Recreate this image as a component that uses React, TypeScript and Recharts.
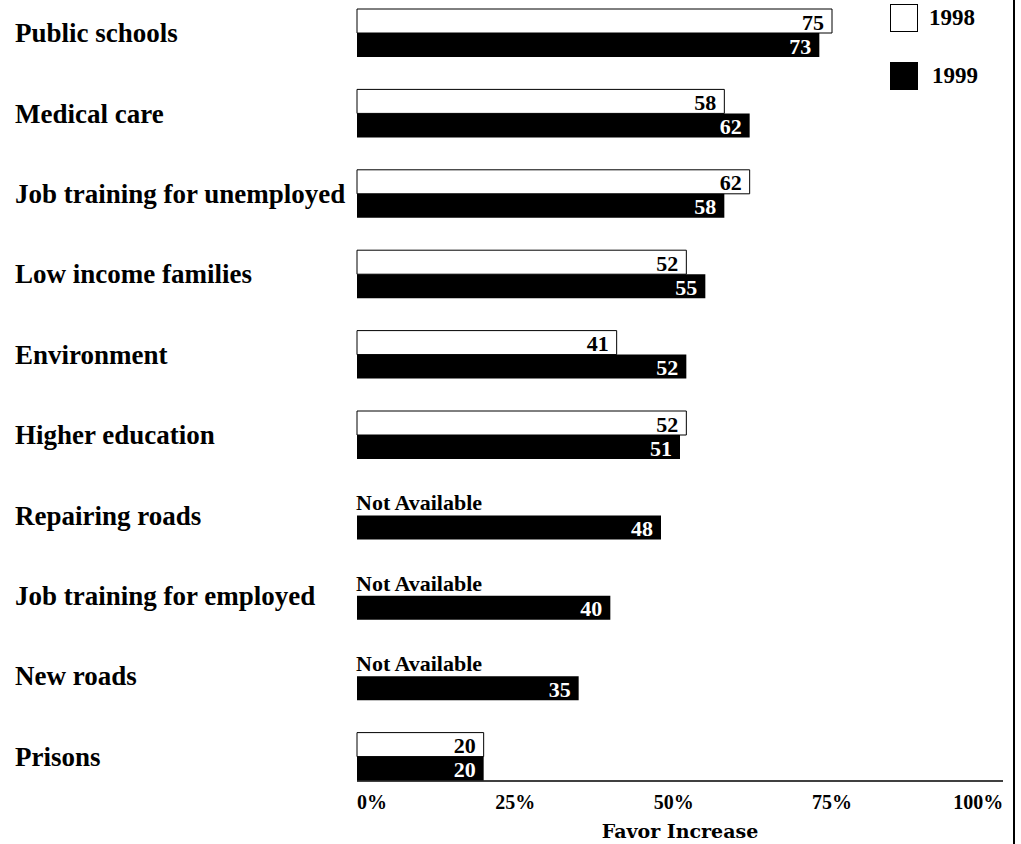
import React from 'react';
import { BarChart, Bar, XAxis, YAxis, LabelList } from 'recharts';

// survey categories, top to bottom
const categories = [
  'Public schools',
  'Medical care',
  'Job training for unemployed',
  'Low income families',
  'Environment',
  'Higher education',
  'Repairing roads',
  'Job training for employed',
  'New roads',
  'Prisons',
];
const values1998: (number | null)[] = [75, 58, 62, 52, 41, 52, null, null, null, 20];
const values1999 = [73, 62, 58, 55, 52, 51, 48, 40, 35, 20];
const pctTicks = [0, 25, 50, 75, 100];

const data = categories.map((name, i) => ({ name, y1998: values1998[i], y1999: values1999[i] }));

const FONT = '"Liberation Serif", "Times New Roman", serif';
const WIDE_FONT = '"DejaVu Serif", serif';

const CategoryTick = (props: any) => {
  const { y, payload } = props;
  return (
    <text x={15} y={y} dominantBaseline="central" textAnchor="start" fontFamily={FONT} fontWeight="bold" fontSize={27} fill="#000">
      {payload.value}
    </text>
  );
};

const PctTick = (props: any) => {
  const { x, y, payload } = props;
  const v = payload.value;
  const anchor = v === 0 ? 'start' : v === 100 ? 'end' : 'middle';
  const dx = v === 100 ? 13 : 0;
  return (
    <text x={x + dx} y={y + 20} textAnchor={anchor} fontFamily={FONT} fontWeight="bold" fontSize={20} fill="#000">
      {v}%
    </text>
  );
};

const valueLabel = (color: string) => (props: any) => {
  const { x, y, width, height, value } = props;
  if (value == null) return null;
  return (
    <text x={x + width - 8} y={y + height / 2 + 1} textAnchor="end" dominantBaseline="central" fontFamily={FONT} fontWeight="bold" fontSize={22} fill={color}>
      {value}
    </text>
  );
};

// 1999 label also carries the "Not Available" note for missing 1998 values
const label1999 = (props: any) => {
  const { x, y, index } = props;
  return (
    <g>
      {valueLabel('#fff')(props)}
      {values1998[index] == null && (
        <text x={x - 1} y={y - 5} textAnchor="start" fontFamily={FONT} fontWeight="bold" fontSize={22} fill="#000">
          Not Available
        </text>
      )}
    </g>
  );
};

const LegendBox = () => (
  <div style={{ position: 'absolute', left: 890, top: 4, fontFamily: FONT, fontWeight: 'bold', fontSize: 23 }}>
    <div style={{ display: 'flex', alignItems: 'center', height: 28 }}>
      <span style={{ width: 28, height: 28, border: '1px solid #000', background: '#fff', boxSizing: 'border-box' }} />
      <span style={{ marginLeft: 11 }}>1998</span>
    </div>
    <div style={{ display: 'flex', alignItems: 'center', height: 28, marginTop: 30 }}>
      <span style={{ width: 28, height: 28, background: '#000' }} />
      <span style={{ marginLeft: 14 }}>1999</span>
    </div>
  </div>
);

export default function App() {
  return (
    <div style={{ position: 'absolute', left: 0, top: 0, width: 1021, height: 844, background: '#fff', overflow: 'hidden' }}>
      <BarChart
        width={1021}
        height={844}
        data={data}
        layout="vertical"
        margin={{ top: 0, right: 18, bottom: 0, left: 0 }}
        barGap={0}
        barSize={24}
      >
        <XAxis
          type="number"
          domain={[0, 102]}
          ticks={pctTicks}
          tickLine={false}
          axisLine={{ stroke: '#000', strokeWidth: 1.5 }}
          tick={<PctTick />}
          height={63}
          label={{ value: 'Favor Increase', position: 'insideBottom', offset: 6, fontFamily: WIDE_FONT, fontWeight: 'bold', fontSize: 19, fill: '#000' }}
        />
        <YAxis
          type="category"
          dataKey="name"
          width={357}
          axisLine={false}
          tickLine={false}
          tick={<CategoryTick />}
          padding={{ top: -7, bottom: -16 }}
        />
        <Bar dataKey="y1998" fill="#fff" stroke="#000" strokeWidth={1} isAnimationActive={false}>
          <LabelList dataKey="y1998" content={valueLabel('#000')} />
        </Bar>
        <Bar dataKey="y1999" fill="#000" isAnimationActive={false}>
          <LabelList dataKey="y1999" content={label1999} />
        </Bar>
      </BarChart>
      <LegendBox />
      <div style={{ position: 'absolute', left: 1013, top: 0, width: 2, height: 844, background: '#000' }} />
    </div>
  );
}
